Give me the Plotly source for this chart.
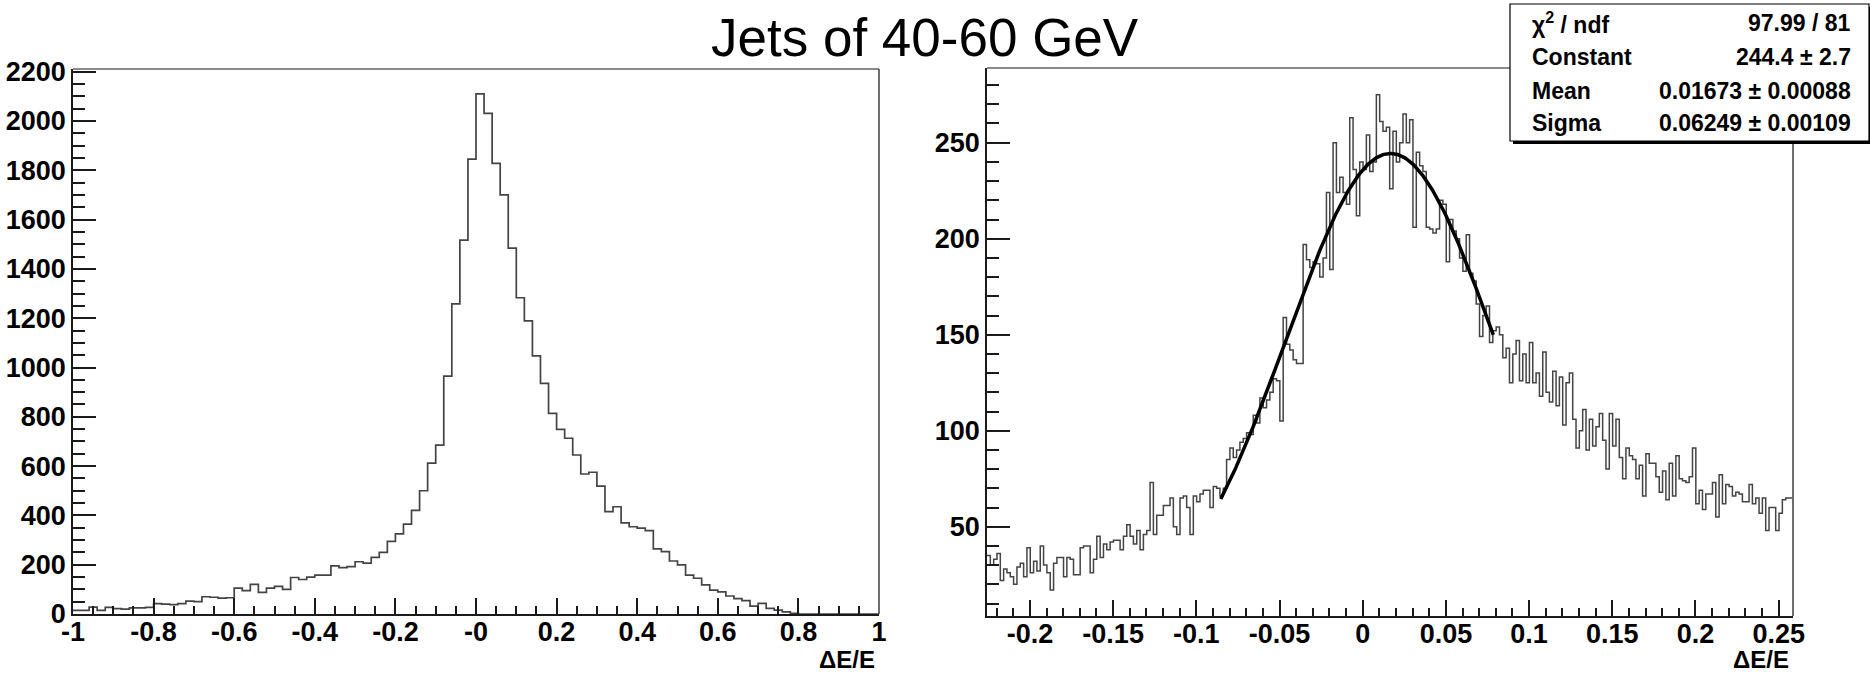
import numpy as np
import plotly.graph_objects as go

W, H = 1870, 673

title_text = "Jets of 40-60 GeV"
x_label = "ΔE/E"

# ---------------- left histogram: 100 bins in [-1, 1]
left_lo, left_hi, left_nbins = -1.0, 1.0, 100
left_counts = [
    15, 15, 28, 15, 27, 22, 20, 25, 25, 27,
    42, 40, 38, 42, 52, 50, 70, 68, 64, 66,
    105, 95, 120, 88, 105, 112, 100, 148, 140, 150,
    158, 158, 195, 188, 192, 212, 206, 230, 250, 295,
    325, 365, 420, 500, 612, 685, 965, 1258, 1517, 1845,
    2110, 2031, 1828, 1700, 1484, 1283, 1189, 1047, 936, 814,
    749, 713, 645, 568, 575, 519, 415, 435, 370, 354,
    348, 338, 264, 253, 215, 199, 158, 145, 118, 97,
    90, 73, 62, 54, 32, 43, 23, 16, 9, 3,
    0, 0, 0, 0, 0, 0, 0, 0, 0, 0,
]
left_xticks = [-1, -0.8, -0.6, -0.4, -0.2, 0, 0.2, 0.4, 0.6, 0.8, 1]
left_xticklabels = ["-1", "-0.8", "-0.6", "-0.4", "-0.2", "-0", "0.2", "0.4", "0.6", "0.8", "1"]
left_yticks = [0, 200, 400, 600, 800, 1000, 1200, 1400, 1600, 1800, 2000, 2200]
left_yrange = [0, 2211]

# ---------------- right histogram: bins of 0.002 starting at -0.2258
right_lo, right_binw = -0.2258, 0.002
right_counts = [
    35, 30, 33, 36, 22, 28, 26, 24, 20, 29,
    31, 24, 39, 26, 32, 27, 40, 30, 26, 17,
    31, 34, 34, 24, 34, 33, 25, 25, 39, 40,
    40, 26, 33, 45, 34, 41, 38, 42, 43, 43,
    38, 45, 51, 45, 41, 48, 38, 46, 48, 73,
    46, 56, 56, 61, 61, 65, 50, 46, 65, 66,
    60, 46, 66, 63, 67, 69, 69, 60, 71, 70,
    66,
    70, 85, 91, 86, 90, 94, 96, 99, 98, 108,
    104, 117, 112, 116, 120, 127, 126, 105, 159, 145,
    142, 137, 135, 135, 197, 189, 185, 188, 187, 180,
    190, 224, 184, 250, 224, 232, 224, 218, 263, 236,
    212, 240, 236, 254, 235, 240, 275, 261, 256, 258,
    226, 256, 240, 250, 265, 250, 262, 206, 245, 238,
    235, 206, 205, 203, 205, 220, 218, 188, 210, 204,
    200, 190, 183, 202, 182, 178, 166, 149, 160, 165,
    146, 152, 154, 150, 138, 143, 125, 140, 147, 126,
    140, 125, 146, 125, 130, 118, 141, 120, 115, 131,
    113, 128, 103, 125, 130, 106, 91, 100, 111,
    90,
    106, 92, 102, 109, 95, 80, 109, 92, 106, 86,
    75, 91, 87, 85, 75, 82, 66, 88, 83, 83,
    76, 68, 79, 64, 83, 66, 87, 75, 74, 73,
    76, 91, 62, 69, 59, 67, 67, 73, 55, 77,
    62, 72, 71, 66, 68, 67, 63, 63, 72, 62,
    65, 57, 65, 48, 60, 60, 48, 57, 64, 65,
    65,
]
right_xticks = [-0.2, -0.15, -0.1, -0.05, 0, 0.05, 0.1, 0.15, 0.2, 0.25]
right_xticklabels = ["-0.2", "-0.15", "-0.1", "-0.05", "0", "0.05", "0.1", "0.15", "0.2", "0.25"]
right_yticks = [50, 100, 150, 200, 250]
right_xrange = [-0.2258, 0.2586]
right_yrange = [3.5, 288.9]

# ---------------- gaussian fit (parameters from the stats box)
fit_constant, fit_mean, fit_sigma = 244.4, 0.01673, 0.06249
fit_lo, fit_hi = -0.0853, 0.0785
stats_rows = [
    ("χ<sup>2</sup> / ndf", "97.99 / 81"),
    ("Constant", "244.4 ± 2.7"),
    ("Mean", "0.01673 ± 0.00088"),
    ("Sigma", "0.06249 ± 0.00109"),
]

FONT = "Liberation Sans, Arial, Helvetica, sans-serif"
AX = "#1a1a1a"
HIST = "#444444"


def px(x):
    return x / W


def py(y):
    return 1 - y / H


def step_xy(lo, width, counts):
    edges = lo + width * np.arange(len(counts) + 1)
    ys = list(counts) + [counts[-1]]
    return edges, ys


fig = go.Figure()

lx, ly = step_xy(left_lo, (left_hi - left_lo) / left_nbins, left_counts)
fig.add_trace(go.Scatter(x=lx, y=ly, mode="lines", line=dict(shape="hv", color=HIST, width=1.7),
                         xaxis="x", yaxis="y", hoverinfo="skip"))

rx, ry = step_xy(right_lo, right_binw, right_counts)
fig.add_trace(go.Scatter(x=rx, y=ry, mode="lines", line=dict(shape="hv", color=HIST, width=1.5),
                         xaxis="x2", yaxis="y2", hoverinfo="skip"))

fx = np.linspace(fit_lo, fit_hi, 300)
fy = fit_constant * np.exp(-0.5 * ((fx - fit_mean) / fit_sigma) ** 2)
fig.add_trace(go.Scatter(x=fx, y=fy, mode="lines", line=dict(color="black", width=3.5),
                         xaxis="x2", yaxis="y2", hoverinfo="skip"))

tickfont = dict(family=FONT, size=27, color="black", weight="bold")


def xax(domain, rng, tickvals, ticktext, minor_dtick, minor_tick0, anchor):
    return dict(domain=domain, range=rng, anchor=anchor, showgrid=False, zeroline=False,
                automargin=False, ticklabelstandoff=-7,
                showline=True, linecolor=AX, linewidth=1.6, mirror=False,
                ticks="inside", ticklen=16, tickwidth=1.5, tickcolor=AX,
                tickmode="array", tickvals=tickvals, ticktext=ticktext, tickfont=tickfont,
                minor=dict(ticks="inside", ticklen=8, tickwidth=1.5, tickcolor=AX,
                           tickmode="linear", tick0=minor_tick0, dtick=minor_dtick, showgrid=False))


def yax(domain, rng, tickvals, minor_dtick, anchor):
    return dict(domain=domain, range=rng, anchor=anchor, showgrid=False, zeroline=False,
                automargin=False,
                showline=True, linecolor=AX, linewidth=1.6, mirror=False,
                ticks="inside", ticklen=23, tickwidth=1.5, tickcolor=AX,
                tickmode="array", tickvals=tickvals, ticktext=[str(v) for v in tickvals],
                tickfont=tickfont,
                minor=dict(ticks="inside", ticklen=12, tickwidth=1.5, tickcolor=AX,
                           tickmode="linear", tick0=0, dtick=minor_dtick, showgrid=False))


L = (73, 879, 69, 614)    # left, right, top, bottom in pixels
R = (987, 1793, 68, 616)

fig.update_layout(
    width=W, height=H, margin=dict(l=0, r=0, t=0, b=0, autoexpand=False),
    paper_bgcolor="white", plot_bgcolor="white", showlegend=False,
    xaxis=xax([px(L[0]), px(L[1])], [left_lo, left_hi], left_xticks, left_xticklabels, 0.05, -1, "y"),
    yaxis=yax([py(L[3]), py(L[2])], left_yrange, left_yticks, 50, "x"),
    xaxis2=xax([px(R[0]), px(R[1])], right_xrange, right_xticks, right_xticklabels, 0.01, 0, "y2"),
    yaxis2=yax([py(R[3]), py(R[2])], right_yrange, right_yticks, 10, "x2"),
)

shapes = []
# frame top and right edges
for (l, r, t, b) in (L, R):
    shapes.append(dict(type="line", xref="paper", yref="paper", x0=px(l), x1=px(r), y0=py(t), y1=py(t),
                       line=dict(color="#8a8a8a", width=2), layer="above"))
    shapes.append(dict(type="line", xref="paper", yref="paper", x0=px(r), x1=px(r), y0=py(t), y1=py(b),
                       line=dict(color="#4a4a4a", width=1.6), layer="above"))
# stats box with shadow
shapes.append(dict(type="rect", xref="paper", yref="paper", x0=px(1513), x1=px(1873), y0=py(144), y1=py(7),
                   fillcolor="black", line=dict(width=0), layer="above"))
shapes.append(dict(type="rect", xref="paper", yref="paper", x0=px(1510), x1=px(1869), y0=py(141), y1=py(4),
                   fillcolor="white", line=dict(color="black", width=1.2), layer="above"))
fig.update_layout(shapes=shapes)

ann = []
ann.append(dict(text=title_text, xref="paper", yref="paper", x=px(925), y=py(37), xanchor="center",
                yanchor="middle", showarrow=False, font=dict(family=FONT, size=53, color="black")))
for (l, r, t, b), yc in ((L, 659), (R, 659)):
    ann.append(dict(text=x_label, xref="paper", yref="paper", x=px(r - 2), y=py(yc), xanchor="right",
                    yanchor="middle", showarrow=False,
                    font=dict(family=FONT, size=24, color="black", weight="bold")))
row_y = [23, 57, 91, 123]
sfont = dict(family=FONT, size=23, color="black", weight="bold")
for (lab, val), yc in zip(stats_rows, row_y):
    ann.append(dict(text=lab, xref="paper", yref="paper", x=px(1530), y=py(yc), xanchor="left",
                    yanchor="middle", showarrow=False, font=sfont))
    ann.append(dict(text=val, xref="paper", yref="paper", x=px(1853), y=py(yc), xanchor="right",
                    yanchor="middle", showarrow=False, font=sfont))
fig.update_layout(annotations=ann)

fig.write_html("out.html")
